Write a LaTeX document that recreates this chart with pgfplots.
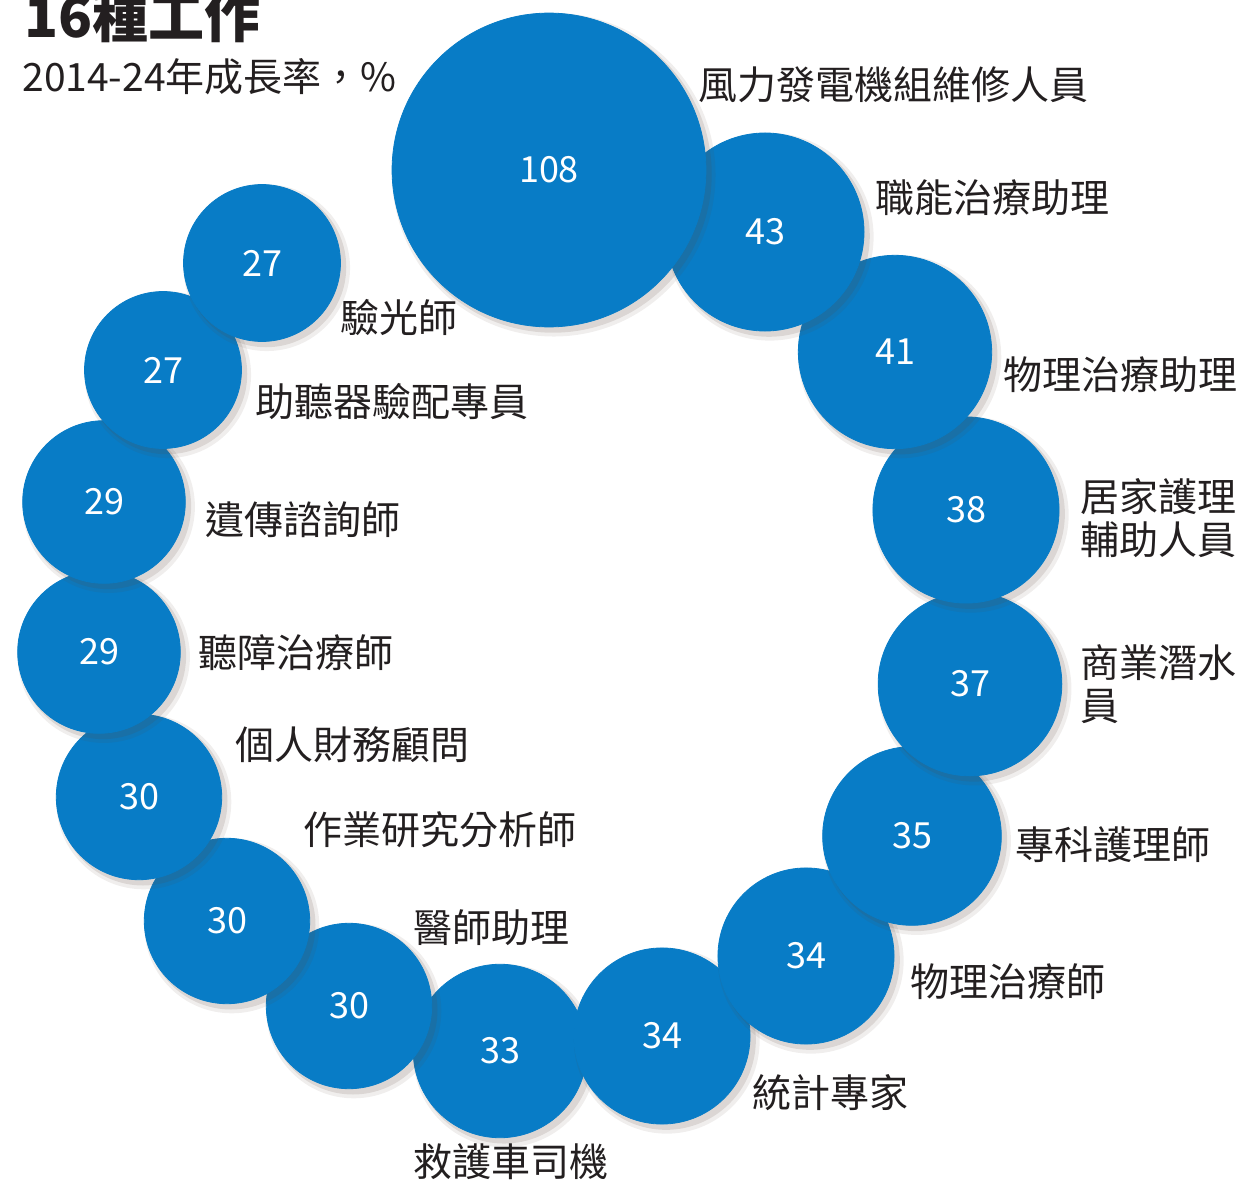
\documentclass[border=0pt]{standalone}
\usepackage{fontspec}
\setmainfont{Noto Sans CJK TC}
\usepackage{pgfplots}
\usepackage{pgfplotstable}
\pgfplotsset{compat=1.18}

\definecolor{bubblue}{RGB}{8,124,198}
\definecolor{ink}{RGB}{35,31,32}
\definecolor{shade}{RGB}{90,70,60}

% growth 2014-24 in %, bubble centres in picture pixels (lowest drawn first)
\pgfplotstableread{
x   y    v
500 1051 33
662 1036 34
349 1006 30
806 956  34
227 921  30
912 836  35
139 797  30
970 684  37
99  652  29
966 510  38
104 502  29
163 370  27
895 352  41
262 263  27
765 232  43
549 170  108
}\bubbles

\pgfplotstableread[col sep=comma]{
x,y,label
698,85,風力發電機組維修人員
875,198,職能治療助理
1003,375,物理治療助理
1080,497,居家護理
1080,540,輔助人員
1080,663,商業潛水
1080,706,員
1015,845,專科護理師
910,982,物理治療師
752,1093,統計專家
413,1162,救護車司機
413,928,醫師助理
303,830,作業研究分析師
235,745,個人財務顧問
198,653,聽障治療師
205,520,遺傳諮詢師
255,402,助聽器驗配專員
340,318,驗光師
}\labels

\begin{document}
\begin{tikzpicture}
\useasboundingbox (0,0) rectangle (624.5pt,591pt);
\clip (0,0) rectangle (624.5pt,591pt);
\begin{axis}[
    at={(312.25pt,295.5pt)}, anchor=center,
    width=624.5pt, height=591pt, scale only axis,
    xmin=0, xmax=1249, ymin=0, ymax=1182, y dir=reverse,
    hide axis, clip=false,
    /pgf/number format/assume math mode=true,
  ]
  % one bubble at a time: two soft shadow discs, then the disc itself
  \pgfplotsinvokeforeach{0,...,15}{
    \addplot[scatter, only marks, mark=*,
      scatter/use mapped color={draw=shade, fill=shade, fill opacity=0.09, draw opacity=0},
      mark options={xshift=2.4pt, yshift=-2.4pt},
      visualization depends on={7.55*sqrt(\thisrow{v})+2.4 \as \perpointsize},
      scatter/@pre marker code/.append style={/tikz/mark size=\perpointsize},
      point meta=\thisrow{v},
      x filter/.code={\ifnum\coordindex=#1\else\def\pgfmathresult{}\fi},
    ] table[x=x, y=y] {\bubbles};
    \addplot[scatter, only marks, mark=*,
      scatter/use mapped color={draw=shade, fill=shade, fill opacity=0.14, draw opacity=0},
      mark options={xshift=2pt, yshift=-2pt},
      visualization depends on={7.55*sqrt(\thisrow{v})+0.9 \as \perpointsize},
      scatter/@pre marker code/.append style={/tikz/mark size=\perpointsize},
      point meta=\thisrow{v},
      x filter/.code={\ifnum\coordindex=#1\else\def\pgfmathresult{}\fi},
    ] table[x=x, y=y] {\bubbles};
    \addplot[scatter, only marks, mark=*,
      scatter/use mapped color={draw=bubblue, fill=bubblue},
      visualization depends on={7.55*sqrt(\thisrow{v}) \as \perpointsize},
      scatter/@pre marker code/.append style={/tikz/mark size=\perpointsize},
      point meta=\thisrow{v},
      x filter/.code={\ifnum\coordindex=#1\else\def\pgfmathresult{}\fi},
    ] table[x=x, y=y] {\bubbles};
  }

  % values inside the bubbles
  \addplot[draw=none, mark=none,
    point meta=\thisrow{v},
    nodes near coords, nodes near coords align={center},
    every node near coord/.append style={text=white, inner sep=0pt,
      font=\fontsize{18}{20}\selectfont},
  ] table[x=x, y=y] {\bubbles};

  % job names
  \addplot[draw=none, mark=none,
    point meta=explicit symbolic,
    nodes near coords, nodes near coords align={west},
    every node near coord/.append style={text=ink, inner sep=0pt,
      font=\fontsize{19.5}{21}\selectfont},
  ] table[x=x, y=y, meta=label] {\labels};

  \node[anchor=base west, inner sep=0pt, text=ink,
    font=\fontsize{28}{30}\selectfont\bfseries] at (axis cs:24,38) {16種工作};
  \node[anchor=base west, inner sep=0pt, text=ink,
    font=\fontsize{19.5}{21}\selectfont] at (axis cs:22,92) {2014-24年成長率，\%};
\end{axis}
\end{tikzpicture}
\end{document}
